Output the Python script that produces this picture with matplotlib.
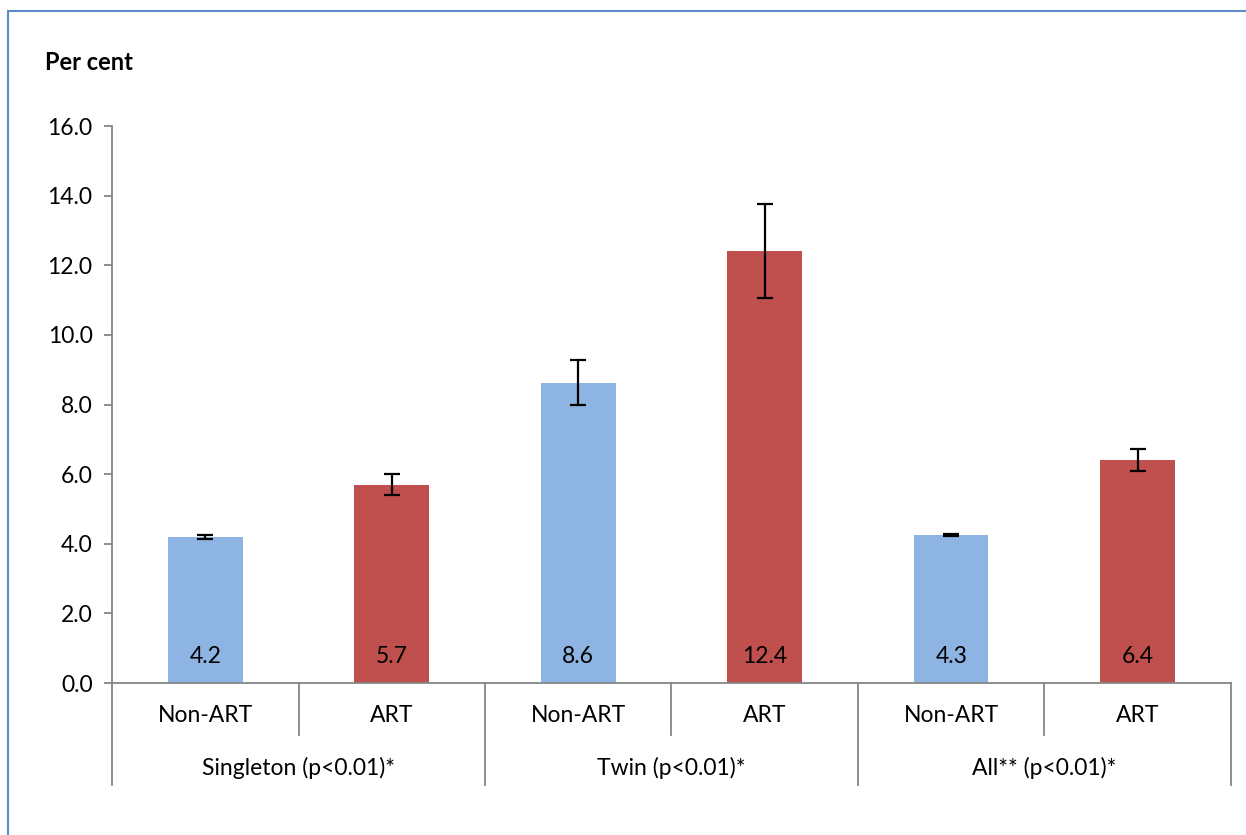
import numpy as np
import matplotlib.pyplot as plt
from matplotlib.patches import Rectangle

plt.rcParams['font.family'] = ['Lato', 'DejaVu Sans']

groups = ['Singleton (p<0.01)*', 'Twin (p<0.01)*', 'All** (p<0.01)*']
kinds = ['Non-ART', 'ART']
values = [4.2, 5.7, 8.63, 12.4, 4.25, 6.4]
labels = ['4.2', '5.7', '8.6', '12.4', '4.3', '6.4']
errors = [0.05, 0.3, 0.64, 1.35, 0.04, 0.31]
yticks = [0, 2, 4, 6, 8, 10, 12, 14, 16]

blue = '#8EB4E3'
red = '#C0504D'
grey = '#868686'

fig = plt.figure(figsize=(12.46, 8.35), dpi=100)
ax = fig.add_axes([0.0899, 0.182, 0.898, 0.667])

x = np.arange(len(values))
colors = [blue, red] * 3
ax.bar(x, values, width=0.4, color=colors, zorder=2)
ax.errorbar(x, values, yerr=errors, fmt='none', ecolor='black',
            elinewidth=1.6, capsize=6, capthick=1.6, zorder=3)
for xi, lab in zip(x, labels):
    ax.text(xi, 0.75, lab, ha='center', va='center', fontsize=16.5, color='black')

ax.set_xlim(-0.5, 5.5)
ax.set_ylim(0, 16)
ax.set_yticks(yticks)
ax.set_yticklabels([f'{v:.1f}' for v in yticks], fontsize=16.5)
ax.set_xticks([])
for s in ['top', 'right']:
    ax.spines[s].set_visible(False)
for s in ['left', 'bottom']:
    ax.spines[s].set_color(grey)
    ax.spines[s].set_linewidth(1.3)
ax.tick_params(axis='y', direction='out', length=6, color=grey, width=1.3, pad=8)

# category separators and labels below the axis
tr = ax.get_xaxis_transform()
for b in np.arange(-0.5, 6, 1):
    outer = (b + 0.5) % 2 == 0
    ax.plot([b, b], [0, -0.183 if outer else -0.0934], color=grey, lw=1.3,
            transform=tr, clip_on=False)
for xi in x:
    ax.text(xi, -0.0575, kinds[xi % 2], ha='center', va='center', fontsize=16.5, transform=tr)
for gi, g in enumerate(groups):
    ax.text(2 * gi + 0.5, -0.153, g, ha='center', va='center', fontsize=16.5, transform=tr)

fig.text(45 / 1246, 1 - 62 / 835, 'Per cent', fontsize=17, fontweight='bold', va='center')

fig.patches.append(Rectangle((8 / 1246, -0.05), 1.1, 1 - 11 / 835 + 0.05,
                             transform=fig.transFigure, fill=False,
                             edgecolor='#5B8BC9', lw=1.5))

fig.savefig('out.png', dpi=100)
